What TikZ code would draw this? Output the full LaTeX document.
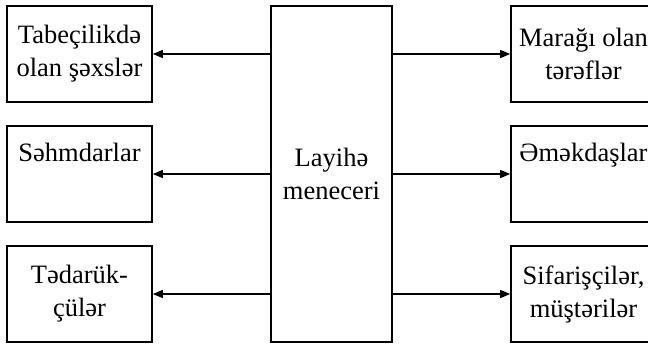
\documentclass[tikz,border=0pt]{standalone}
\usepackage{fontspec}
\setmainfont{Liberation Serif}
\usetikzlibrary{arrows.meta}
\begin{document}
\begin{tikzpicture}[x=1pt,y=-1pt,
  box/.style={draw, line width=1.6pt, minimum width=145pt, minimum height=96pt,
    inner sep=0pt, align=center, font=\fontsize{26.5}{33}\selectfont,
    execute at begin node={\rule{0pt}{30pt}}},
  hub/.style={box, minimum width=121pt, minimum height=336pt},
  link/.style={line width=1.3pt, -{Triangle[length=10pt,width=8pt]}}]
\clip (0,0) rectangle (648,345);
% central node
\node[hub] (pm) at (331.5,174) {Layihə\\meneceri};
% left column
\node[box] (l1) at (79.5,54)  {Tabeçilikdə\\olan şəxslər};
\node[box] (l2) at (79.5,174) {Səhmdarlar\\\strut};
\node[box] (l3) at (79.5,294) {Tədarük-\\çülər};
% right column
\node[box] (r1) at (583.5,54)  {Marağı olan\\tərəflər};
\node[box] (r2) at (583.5,174) {Əməkdaşlar\\\strut};
\node[box] (r3) at (583.5,294) {Sifarişçilər,\\müştərilər};
% connectors
\foreach \n in {l1,l2,l3} \draw[link] (pm.west |- \n) -- (\n.east);
\foreach \n in {r1,r2,r3} \draw[link] (pm.east |- \n) -- (\n.west);
\end{tikzpicture}
\end{document}
